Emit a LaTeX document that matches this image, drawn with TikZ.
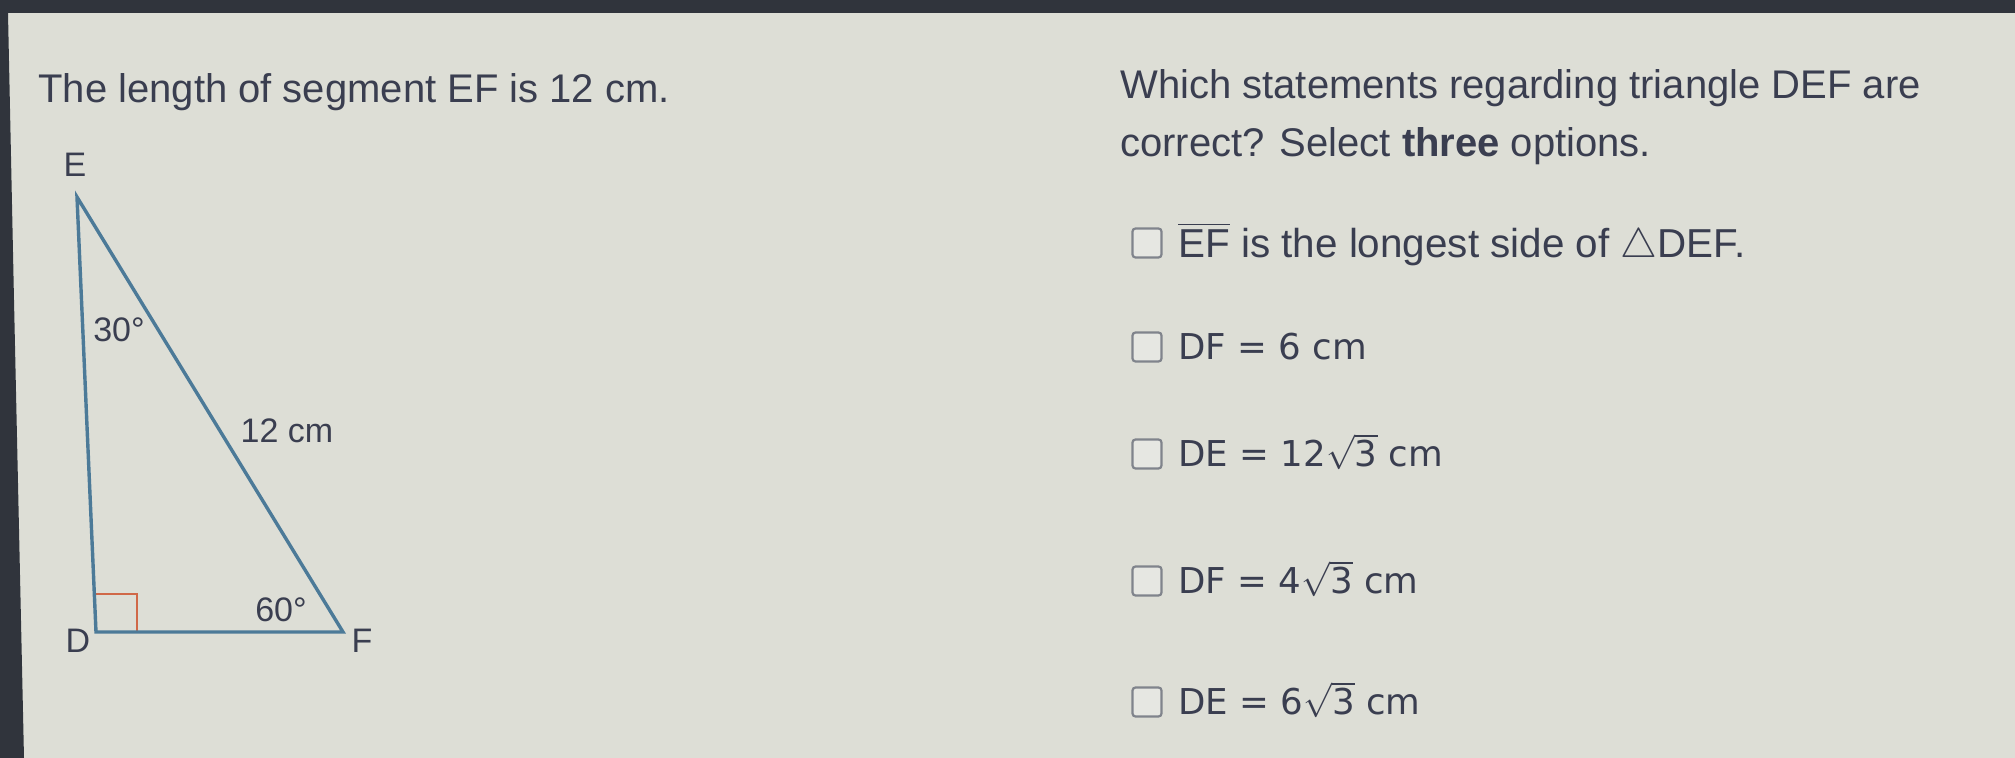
\documentclass[tikz,border=0pt]{standalone}
\usepackage{amsmath}
\usepackage{fontspec}
\setmainfont{Liberation Sans}
\newfontfamily\optfont{DejaVu Sans}
\usetikzlibrary{positioning}
\definecolor{paper}{RGB}{221,222,214}
\definecolor{bezel}{RGB}{48,52,60}
\definecolor{ink}{RGB}{58,62,80}
\definecolor{sideblue}{RGB}{76,122,152}
\definecolor{markred}{RGB}{208,104,72}
\definecolor{boxgray}{RGB}{128,132,140}
\definecolor{boxfill}{RGB}{230,231,226}
\tikzstyle{question}=[anchor=base west, inner sep=0, text=ink, font=\fontsize{20}{24}\selectfont]
\tikzstyle{option}=[anchor=base west, inner sep=0, text=ink, font=\optfont\fontsize{17.8}{21}\selectfont]
\tikzstyle{checkbox}=[draw=boxgray, fill=boxfill, line width=1.1pt, rounded corners=1.5pt,
                      minimum size=14.5pt, inner sep=0, outer sep=0]
\tikzstyle{vertexlabel}=[inner sep=0, text=ink, font=\fontsize{17}{20}\selectfont]
\tikzstyle{side}=[draw=sideblue, line width=1.7pt, line join=miter]
\tikzstyle{rightmark}=[draw=markred, line width=1pt]

\begin{document}
\begin{tikzpicture}[x=0.5pt, y=-0.5pt]
        % page and screen edge
        \useasboundingbox[fill=paper] (0,0) rectangle (2015,758);
        \fill[bezel] (0,0) -- (2015,0) -- (2015,13) -- (8,13) -- (14,300) -- (24,758) -- (0,758) -- cycle;
        % texts
        \node[question] (given) at (38,103) {The length of segment EF is 12 cm.};
        \node[question] (ask1) at (1120,99) {Which statements regarding triangle DEF are};
        \node[question] (ask2) at (1120,157) {correct? Select \textbf{three} options.};
        % triangle
        \coordinate (E) at (77,197);
        \coordinate (D) at (96,632);
        \coordinate (F) at (343,632);
        \draw[rightmark] ([yshift=19pt]D) -| ([xshift=20.5pt]D);
        \draw[side] (E) -- (D) -- (F) -- cycle;
        \node[vertexlabel] (Elabel) at (75,165) {E};
        \node[vertexlabel] (Dlabel) at (78,641) {D};
        \node[vertexlabel] (Flabel) at (362,641) {F};
        \node[vertexlabel] (angE) at (119,330) {30°};
        \node[vertexlabel] (hyp) at (287,431) {12 cm};
        \node[vertexlabel] (angF) at (281,610) {60°};
        % options
        \node[checkbox] (box1) at (1147,243) {};
        \node[checkbox] (box2) at (1147,347) {};
        \node[checkbox] (box3) at (1147,454) {};
        \node[checkbox] (box4) at (1147,581) {};
        \node[checkbox] (box5) at (1147,702) {};
        \node[question, font=\fontsize{20.2}{24}\selectfont] (opt1) at (1178,258) {\(\overline{\mbox{EF}}\) is the longest side of \(\triangle\)DEF.};
        \node[option] (opt2) at (1178,360) {DF = 6 cm};
        \node[option] (opt3) at (1178,467) {DE = 12\(\sqrt{\mbox{3}}\) cm};
        \node[option] (opt4) at (1178,594) {DF = 4\(\sqrt{\mbox{3}}\) cm};
        \node[option] (opt5) at (1178,715) {DE = 6\(\sqrt{\mbox{3}}\) cm};
    \end{tikzpicture}
\end{document}
